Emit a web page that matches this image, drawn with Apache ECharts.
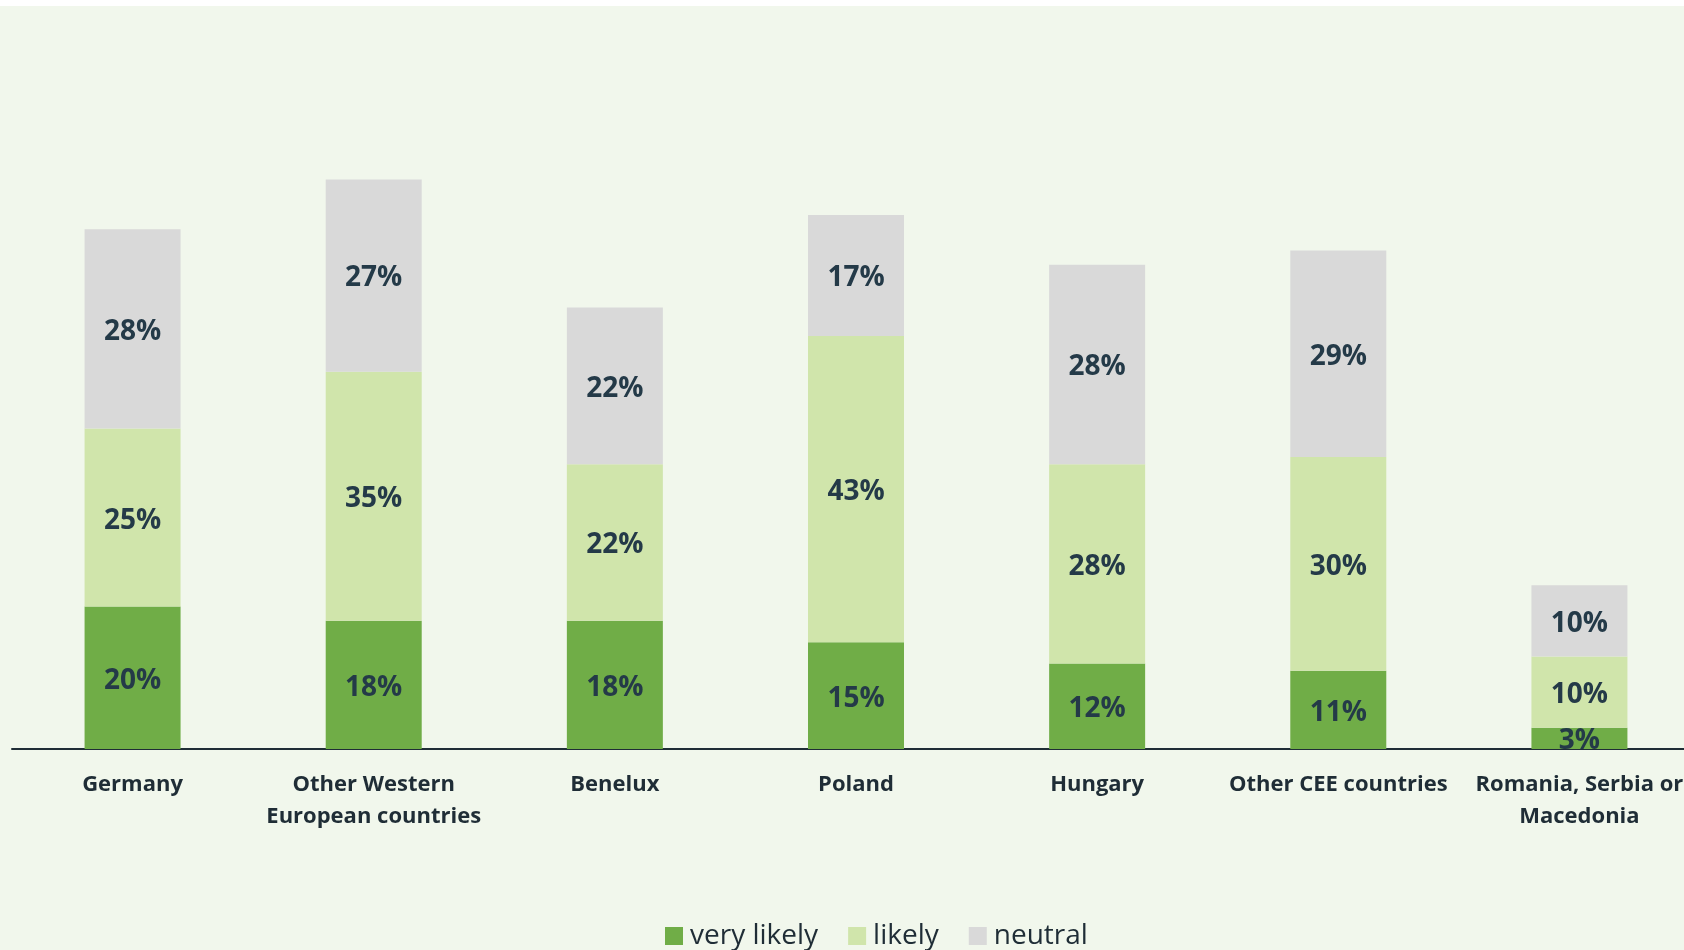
<!DOCTYPE html>
<html>
<head>
<meta charset="utf-8">
<script src="https://cdn.jsdelivr.net/npm/echarts@6/dist/echarts.min.js"></script>
<style>
  html, body { margin: 0; padding: 0; background: #ffffff; }
  #chart { position: absolute; left: 0; top: 6px; width: 1684px; height: 944px; }
</style>
</head>
<body>
<div id="chart"></div>
<script>
// Likelihood by region, share of respondents (%)
const categories = [
  'Germany',
  'Other Western\nEuropean countries',
  'Benelux',
  'Poland',
  'Hungary',
  'Other CEE countries',
  'Romania, Serbia or\nMacedonia'
];
const veryLikely = [20, 18, 18, 15, 12, 11, 3];
const likely     = [25, 35, 22, 43, 28, 30, 10];
const neutral    = [28, 27, 22, 17, 28, 29, 10];

const textColor = '#243a48';
const labelFont = 'Open Sans';

function stackSeries(name, data, color) {
  return {
    name: name,
    type: 'bar',
    stack: 'total',
    barWidth: 96,
    data: data,
    itemStyle: { color: color },
    label: {
      show: true,
      position: 'inside',
      offset: [0, 3],
      formatter: '{c}%',
      fontFamily: labelFont,
      fontWeight: 'bold',
      fontSize: 28,
      color: textColor
    },
    emphasis: { disabled: true }
  };
}

const chart = echarts.init(document.getElementById('chart'));
chart.setOption({
  backgroundColor: '#f1f7ec',
  animation: false,
  grid: {
    left: 12,
    top: 31,
    width: 1688,
    height: 712,
    containLabel: false,
    outerBoundsMode: 'none'
  },
  legend: {
    left: 660,
    top: 911,
    itemWidth: 18,
    itemHeight: 18,
    itemGap: 30,
    icon: 'rect',
    textStyle: {
      fontFamily: labelFont,
      fontSize: 28,
      color: '#1f2d36',
      padding: [0, 0, 0, 2]
    },
    data: ['very likely', 'likely', 'neutral']
  },
  xAxis: {
    type: 'category',
    data: categories,
    axisLine: { lineStyle: { color: '#1f2d36', width: 2 } },
    axisTick: { show: false },
    axisLabel: {
      interval: 0,
      margin: 20,
      fontFamily: labelFont,
      fontWeight: 'bold',
      fontSize: 22,
      lineHeight: 32,
      color: '#1f2d36'
    }
  },
  yAxis: {
    type: 'value',
    min: 0,
    max: 100,
    show: false,
    splitLine: { show: false }
  },
  series: [
    stackSeries('very likely', veryLikely, '#70ad47'),
    stackSeries('likely', likely, '#d0e5ab'),
    stackSeries('neutral', neutral, '#d9d9d9')
  ]
});
</script>
</body>
</html>
